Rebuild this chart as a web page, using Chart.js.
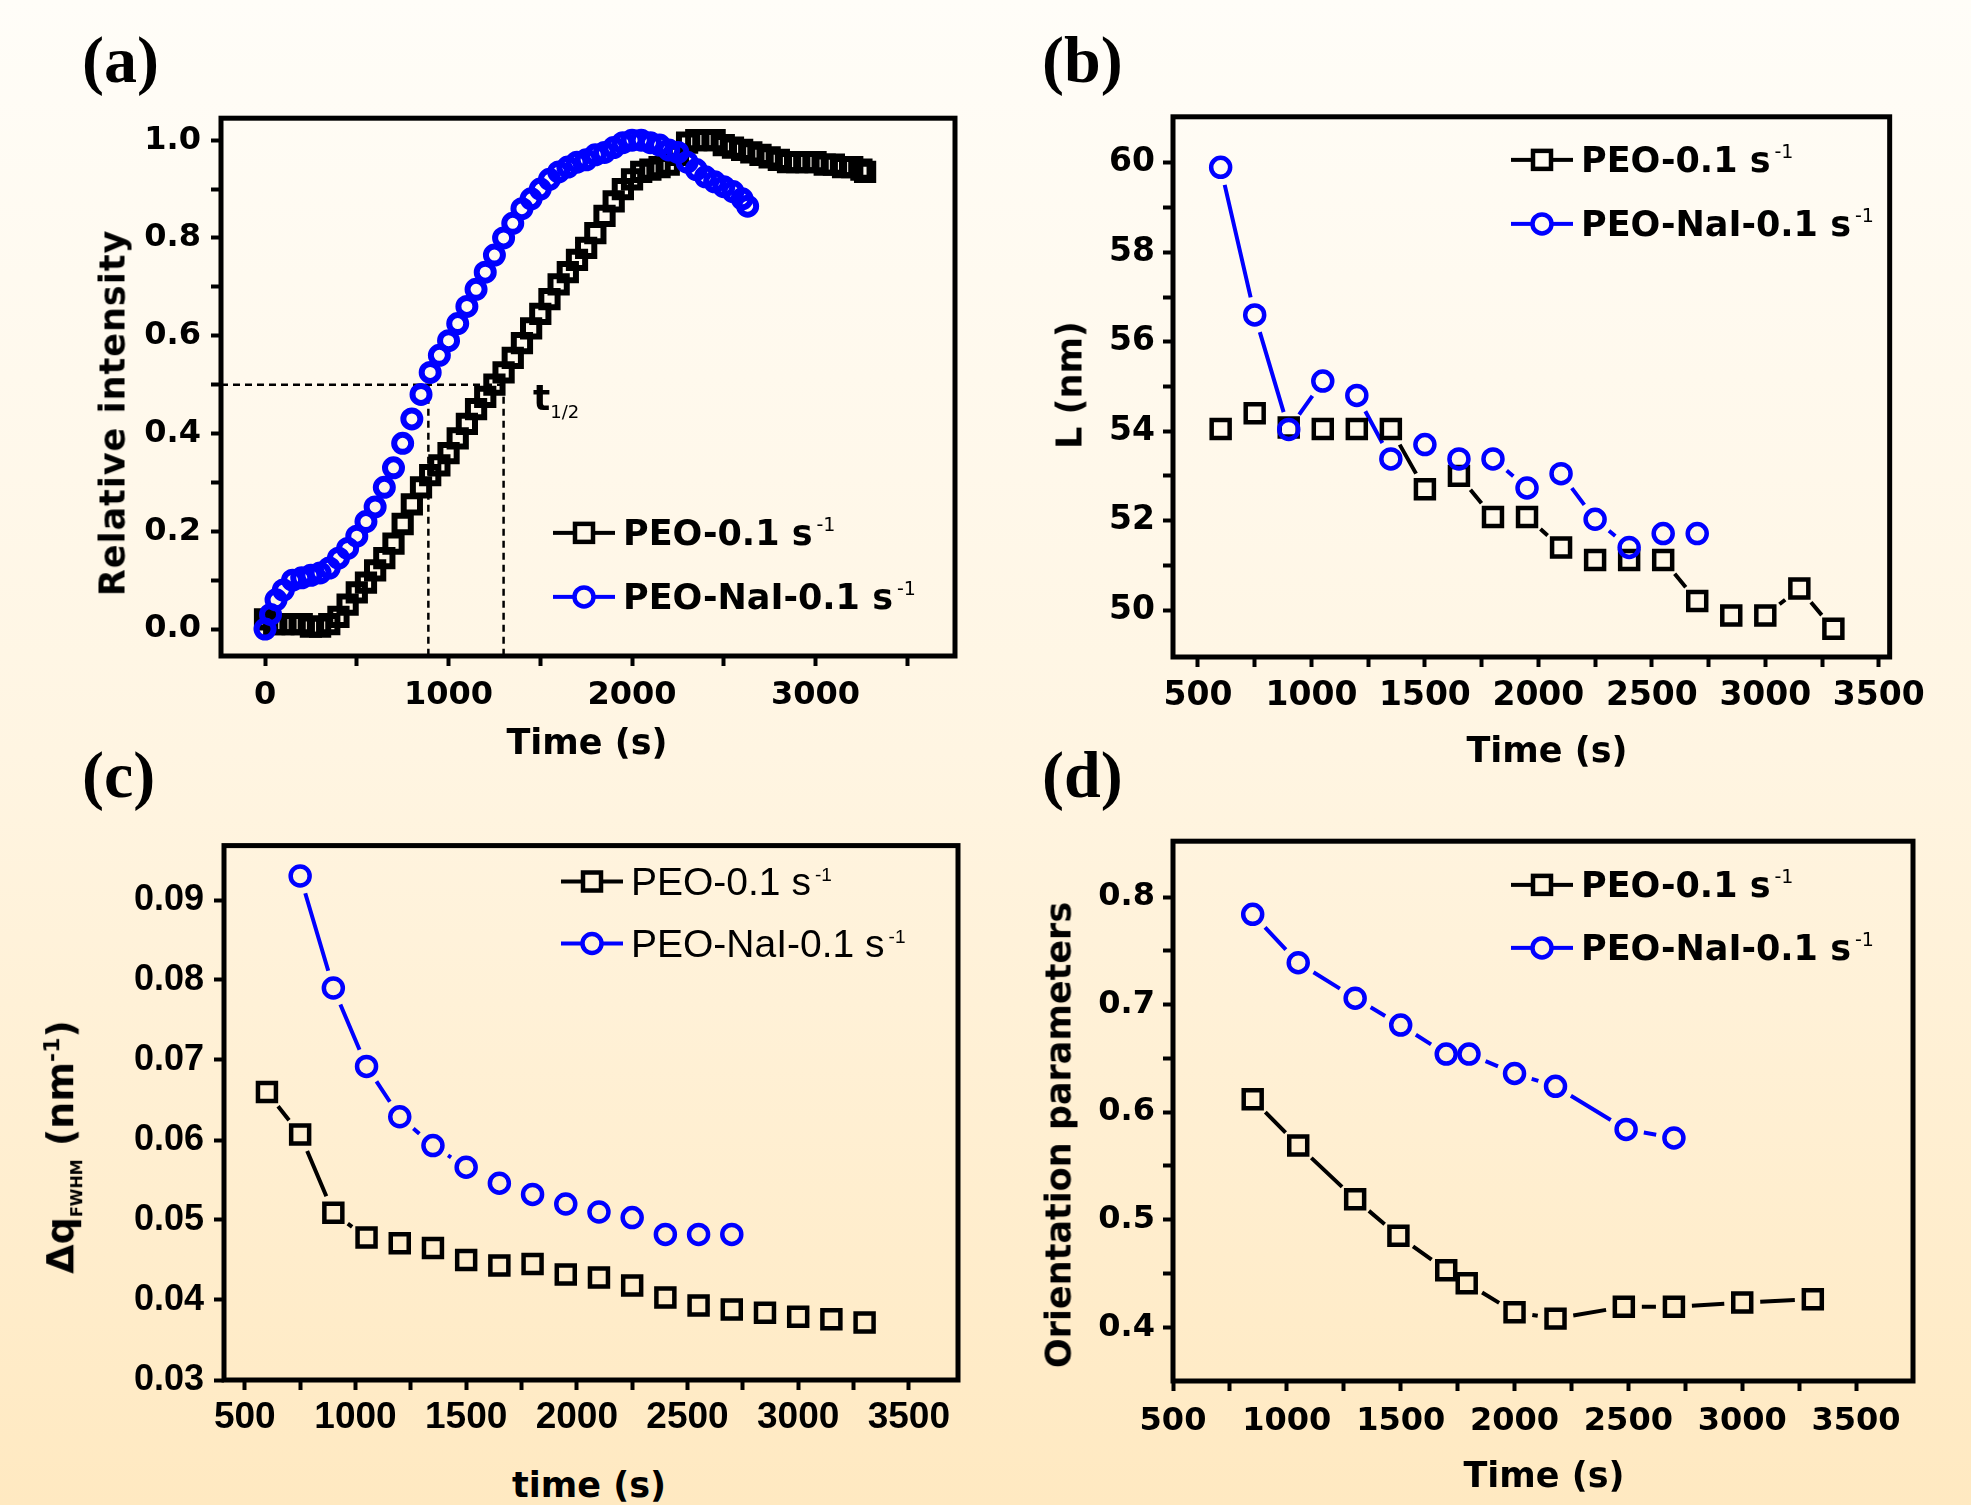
<!DOCTYPE html>
<html>
<head>
<meta charset="utf-8">
<script src="https://cdn.jsdelivr.net/npm/chart.js@4.4.1/dist/chart.umd.min.js"></script>
<style>
html, body { margin: 0; padding: 0; }
body {
	width: 1971px; height: 1505px; position: relative; overflow: hidden;
	background: linear-gradient(to bottom, #fffdf8 0%, #fff5e2 50%, #ffe9c1 100%);
	font-family: 'DejaVu Sans', sans-serif; color: #000;
}
canvas { position: absolute; }
.lbl { position: absolute; white-space: nowrap; line-height: 1; }
.panel { font-family: 'Liberation Serif', serif; font-weight: bold; font-size: 66px; transform: translateY(-50%); }
.title { font-weight: bold; font-size: 35px; transform: translate(-50%, -50%); }
.ytitle { transform: translate(-50%, -50%) rotate(-90deg); }
.leg { display: flex; align-items: center; transform: translateY(-50%); font-weight: bold; font-size: 35px; }
.leg svg { display: block; margin-right: 8px; }
.leg sup { font-size: 19px; font-weight: normal; vertical-align: 0.75em; margin-left: 4px; }
.legc { font-family: 'Liberation Sans', sans-serif; font-weight: normal; font-size: 39px; }
</style>
</head>
<body>
<canvas id="chartA"></canvas>
<canvas id="chartB"></canvas>
<canvas id="chartC"></canvas>
<canvas id="chartD"></canvas>

<div class="lbl panel" style="left:82px; top:60px;">(a)</div>
<div class="lbl panel" style="left:1042px; top:60px;">(b)</div>
<div class="lbl panel" style="left:82px; top:775px;">(c)</div>
<div class="lbl panel" style="left:1042px; top:775px;">(d)</div>

<div class="lbl title ytitle" style="left:113px; top:413px; letter-spacing:1px;">Relative intensity</div>
<div class="lbl title" style="left:587px; top:742px;">Time (s)</div>
<div class="lbl title ytitle" style="left:1070px; top:385px;">L (nm)</div>
<div class="lbl title" style="left:1547px; top:750px;">Time (s)</div>
<div class="lbl title ytitle" style="left:63px; top:1147px; font-size:38px;">Δq<sub style="font-size:16px;">FWHM</sub> (nm<sup style="font-size:22px;">-1</sup>)</div>
<div class="lbl title" style="left:589px; top:1485px;">time (s)</div>
<div class="lbl title ytitle" style="left:1059px; top:1135px;">Orientation parameters</div>
<div class="lbl title" style="left:1544px; top:1475px;">Time (s)</div>

<div class="lbl" style="left:533px; top:380px; font-weight:bold; font-size:36px;">t<sub style="font-size:18px; font-weight:normal;">1/2</sub></div>

<div id="legends"></div>

<script>
// ---- panel (a): relative intensity vs time ----
const aPeoTime = [0,50,100,150,200,250,300,350,400,450,500,550,600,650,700,750,800,850,900,950,1000,1050,1100,1150,1200,1250,1300,1350,1400,1450,1500,1550,1600,1650,1700,1750,1800,1850,1900,1950,2000,2050,2100,2150,2200,2250,2300,2350,2400,2450,2500,2550,2600,2650,2700,2750,2800,2850,2900,2950,3000,3050,3100,3150,3200,3250,3270];
const aPeoInt = [0.02,0.01,0.01,0.01,0.01,0.005,0.005,0.01,0.025,0.05,0.075,0.095,0.12,0.145,0.175,0.215,0.255,0.29,0.315,0.335,0.36,0.39,0.42,0.45,0.475,0.5,0.525,0.555,0.585,0.615,0.645,0.675,0.705,0.73,0.755,0.78,0.81,0.845,0.875,0.9,0.92,0.935,0.94,0.945,0.95,0.97,0.995,1.0,1.0,1.0,0.99,0.985,0.98,0.975,0.97,0.965,0.96,0.955,0.955,0.955,0.955,0.95,0.95,0.945,0.945,0.94,0.935];
const aNaiTime = [0,30,60,100,150,200,250,300,350,400,450,500,550,600,650,700,750,800,850,900,950,1000,1050,1100,1150,1200,1250,1300,1350,1400,1450,1500,1550,1600,1650,1700,1750,1800,1850,1900,1950,2000,2050,2100,2150,2200,2250,2300,2350,2400,2450,2500,2550,2600,2630];
const aNaiInt = [0.0,0.03,0.06,0.08,0.1,0.105,0.11,0.115,0.125,0.145,0.165,0.19,0.22,0.25,0.29,0.33,0.38,0.43,0.48,0.525,0.56,0.59,0.625,0.66,0.695,0.73,0.765,0.8,0.83,0.86,0.88,0.9,0.92,0.935,0.945,0.955,0.96,0.97,0.975,0.985,0.995,1.0,1.0,0.995,0.99,0.98,0.975,0.955,0.94,0.925,0.915,0.905,0.895,0.88,0.865];
const aHalfLevel = 0.5;
const aHalfTimes = [890, 1300];
const aXMajor = [0,1000,2000,3000], aXMinor = [500,1500,2500,3500];
const aYMajor = [0,0.2,0.4,0.6,0.8,1.0], aYMinor = [0.1,0.3,0.5,0.7,0.9];

// ---- panel (b): long period L ----
const bPeoTime = [600,750,900,1050,1200,1350,1500,1650,1800,1950,2100,2250,2400,2550,2700,2850,3000,3150,3300];
const bPeoL = [54.05,54.4,54.08,54.05,54.05,54.05,52.7,53.0,52.08,52.08,51.4,51.12,51.12,51.12,50.2,49.88,49.88,50.48,49.58];
const bNaiTime = [600,750,900,1050,1200,1350,1500,1650,1800,1950,2100,2250,2400,2550,2700];
const bNaiL = [59.9,56.6,54.04,55.12,54.8,53.38,53.7,53.38,53.38,52.73,53.05,52.03,51.4,51.71,51.71];
const bXMajor = [500,1000,1500,2000,2500,3000,3500], bXMinor = [750,1250,1750,2250,2750,3250];
const bYMajor = [50,52,54,56,58,60], bYMinor = [51,53,55,57,59];

// ---- panel (c): peak width ----
const cPeoTime = [600,750,900,1050,1200,1350,1500,1650,1800,1950,2100,2250,2400,2550,2700,2850,3000,3150,3300];
const cPeoDq = [0.0660,0.0607,0.0509,0.0478,0.0471,0.0465,0.0450,0.0443,0.0445,0.0432,0.0428,0.0418,0.0403,0.0393,0.0388,0.0384,0.0379,0.0376,0.0372];
const cNaiTime = [750,900,1050,1200,1350,1500,1650,1800,1950,2100,2250,2400,2550,2700];
const cNaiDq = [0.0930,0.0790,0.0692,0.0629,0.0593,0.0566,0.0546,0.0532,0.0520,0.0510,0.0503,0.0482,0.0482,0.0482];
const cXMajor = [500,1000,1500,2000,2500,3000,3500], cXMinor = [750,1250,1750,2250,2750,3250];
const cYMajor = [0.03,0.04,0.05,0.06,0.07,0.08,0.09], cYMinor = [];

// ---- panel (d): orientation ----
const dPeoTime = [850,1050,1300,1490,1700,1790,2000,2180,2480,2700,3000,3310];
const dPeoOr = [0.612,0.569,0.519,0.485,0.453,0.441,0.414,0.408,0.419,0.419,0.423,0.426];
const dNaiTime = [850,1050,1300,1500,1700,1800,2000,2180,2490,2700];
const dNaiOr = [0.784,0.739,0.706,0.681,0.654,0.654,0.636,0.624,0.584,0.576];
const dXMajor = [500,1000,1500,2000,2500,3000,3500], dXMinor = [750,1250,1750,2250,2750,3250];
const dYMajor = [0.4,0.5,0.6,0.7,0.8], dYMinor = [0.45,0.55,0.65,0.75];

const seriesNames = ['PEO-0.1 s', 'PEO-NaI-0.1 s'];
const BLACK = '#000000', BLUE = '#0000ff';

const YW = 150, XH = 80, PT = 20, PR = 20;

const pts = (xs, ys) => xs.map((x, i) => ({ x, y: ys[i] }));

// lines between markers, cut back near each marker
const gapLines = {
	id: 'gapLines',
	beforeDatasetsDraw(chart) {
		const ctx = chart.ctx;
		chart.data.datasets.forEach((ds, i) => {
			if (!ds.gap) return;
			const els = chart.getDatasetMeta(i).data;
			ctx.save();
			ctx.strokeStyle = ds.borderColor;
			ctx.lineWidth = 4;
			ctx.beginPath();
			for (let k = 1; k < els.length; k++) {
				const a = els[k - 1], b = els[k];
				const dx = b.x - a.x, dy = b.y - a.y;
				const len = Math.hypot(dx, dy);
				if (len <= 2 * ds.gap + 2) continue;
				const ux = dx / len, uy = dy / len;
				ctx.moveTo(a.x + ux * ds.gap, a.y + uy * ds.gap);
				ctx.lineTo(b.x - ux * ds.gap, b.y - uy * ds.gap);
			}
			ctx.stroke();
			ctx.restore();
		});
	}
};

const frame = {
	id: 'frame',
	afterDraw(chart) {
		const { left, top, right, bottom } = chart.chartArea;
		const ctx = chart.ctx;
		ctx.save();
		ctx.lineWidth = 5;
		ctx.strokeStyle = '#000';
		ctx.strokeRect(left, top, right - left, bottom - top);
		ctx.restore();
	}
};

function axis(dir, min, max, major, minor, fmt, font, pad) {
	const all = major.concat(minor).sort((a, b) => a - b);
	return {
		type: 'linear', min, max,
		afterBuildTicks: s => { s.ticks = all.map(v => ({ value: v })); },
		afterFit: s => { if (dir === 'x') s.height = XH; else s.width = YW; },
		grid: { drawOnChartArea: false, drawTicks: true, tickLength: 10, tickWidth: 4, tickColor: '#000', color: '#000' },
		border: { display: false },
		ticks: {
			autoSkip: false, maxRotation: 0, padding: pad, color: '#000', font,
			callback: v => major.includes(v) ? fmt(v) : ''
		}
	};
}

function series(data, color, style, r, gap, bw) {
	return {
		data, showLine: false, gap,
		pointStyle: style, pointRadius: r, pointBorderWidth: bw || 4.5,
		pointBorderColor: color, pointBackgroundColor: 'rgba(0,0,0,0)',
		borderColor: color, order: color === BLUE ? 0 : 1
	};
}

function makeChart(id, plot, xAxis, yAxis, datasets) {
	const cv = document.getElementById(id);
	const left = plot.l - YW, top = plot.t - PT;
	cv.width = plot.r + PR - left;
	cv.height = plot.b + XH - top;
	cv.style.left = left + 'px';
	cv.style.top = top + 'px';
	return new Chart(cv, {
		type: 'scatter',
		data: { datasets },
		options: {
			responsive: false, animation: false,
			layout: { padding: { top: PT, right: PR, left: 0, bottom: 0 }, autoPadding: false },
			plugins: { legend: { display: false }, tooltip: { enabled: false } },
			scales: { x: xAxis, y: yAxis }
		},
		plugins: [gapLines, frame]
	});
}

const fInt = v => String(v);
const f1 = v => v.toFixed(1);
const f2 = v => v.toFixed(2);
const dv = size => ({ family: 'DejaVu Sans', weight: 'bold', size });
const lib = size => ({ family: 'Liberation Sans', weight: 'bold', size });

// (a)
const aXMin = -240, aYMin = -0.055;
const dashed = data => ({
	data, showLine: true, borderColor: '#000', borderWidth: 2.5, borderDash: [7, 5],
	pointRadius: 0, order: 2
});
makeChart('chartA', { l: 221, t: 109, r: 955, b: 656 },
	axis('x', aXMin, 3760, aXMajor, aXMinor, fInt, dv(32), 10),
	axis('y', aYMin, 1.045, aYMajor, aYMinor, f1, dv(32), 10),
	[
		dashed([{ x: aXMin, y: aHalfLevel }, { x: aHalfTimes[1], y: aHalfLevel }]),
		dashed([{ x: aHalfTimes[0], y: aHalfLevel }, { x: aHalfTimes[0], y: aYMin }]),
		dashed([{ x: aHalfTimes[1], y: aHalfLevel }, { x: aHalfTimes[1], y: aYMin }]),
		series(pts(aPeoTime, aPeoInt), BLACK, 'rect', 11.5, 18, 6),
		series(pts(aNaiTime, aNaiInt), BLUE, 'circle', 8.5, 18, 6)
	]);

// (b)
makeChart('chartB', { l: 1173, t: 109, r: 1915, b: 657 },
	axis('x', 390, 3548, bXMajor, bXMinor, fInt, dv(33), 10),
	axis('y', 48.95, 61.03, bYMajor, bYMinor, fInt, dv(33), 8),
	[
		series(pts(bPeoTime, bPeoL), BLACK, 'rect', 12.7, 18),
		series(pts(bNaiTime, bNaiL), BLUE, 'circle', 9.5, 18)
	]);

// (c)
makeChart('chartC', { l: 224, t: 834, r: 958, b: 1380 },
	axis('x', 406, 3722, cXMajor, cXMinor, fInt, lib(37), 6),
	axis('y', 0.03, 0.0968, cYMajor, cYMinor, f2, lib(36), 10),
	[
		series(pts(cPeoTime, cPeoDq), BLACK, 'rect', 12.7, 18),
		series(pts(cNaiTime, cNaiDq), BLUE, 'circle', 9.5, 18)
	]);

// (d)
makeChart('chartD', { l: 1173, t: 834, r: 1913, b: 1381 },
	axis('x', 500, 3750, dXMajor, dXMinor, fInt, dv(32), 11),
	axis('y', 0.35, 0.852, dYMajor, dYMinor, f1, dv(32), 8),
	[
		series(pts(dPeoTime, dPeoOr), BLACK, 'rect', 12.7, 18),
		series(pts(dNaiTime, dNaiOr), BLUE, 'circle', 9.5, 18)
	]);

// legends, placed inside each plot
const legendRows = [
	{ x: 553, y: 533, i: 0, cls: '' }, { x: 553, y: 597, i: 1, cls: '' },
	{ x: 1511, y: 160, i: 0, cls: '' }, { x: 1511, y: 224, i: 1, cls: '' },
	{ x: 561, y: 881, i: 0, cls: 'legc' }, { x: 561, y: 943, i: 1, cls: 'legc' },
	{ x: 1511, y: 885, i: 0, cls: '' }, { x: 1511, y: 948, i: 1, cls: '' }
];
const symSquare = '<svg width="62" height="30"><line x1="0" y1="15" x2="20" y2="15" stroke="#000" stroke-width="4"/><rect x="22" y="6" width="18" height="18" fill="none" stroke="#000" stroke-width="4.5"/><line x1="42" y1="15" x2="62" y2="15" stroke="#000" stroke-width="4"/></svg>';
const symCircle = '<svg width="62" height="30"><line x1="0" y1="15" x2="20" y2="15" stroke="#00f" stroke-width="4"/><circle cx="31" cy="15" r="9.5" fill="none" stroke="#00f" stroke-width="4.5"/><line x1="42" y1="15" x2="62" y2="15" stroke="#00f" stroke-width="4"/></svg>';
const legHost = document.getElementById('legends');
legendRows.forEach(r => {
	const d = document.createElement('div');
	d.className = 'lbl leg ' + r.cls;
	d.style.left = r.x + 'px';
	d.style.top = r.y + 'px';
	d.innerHTML = (r.i === 0 ? symSquare : symCircle) + '<span>' + seriesNames[r.i] + '<sup>-1</sup></span>';
	legHost.appendChild(d);
});
</script>
</body>
</html>
